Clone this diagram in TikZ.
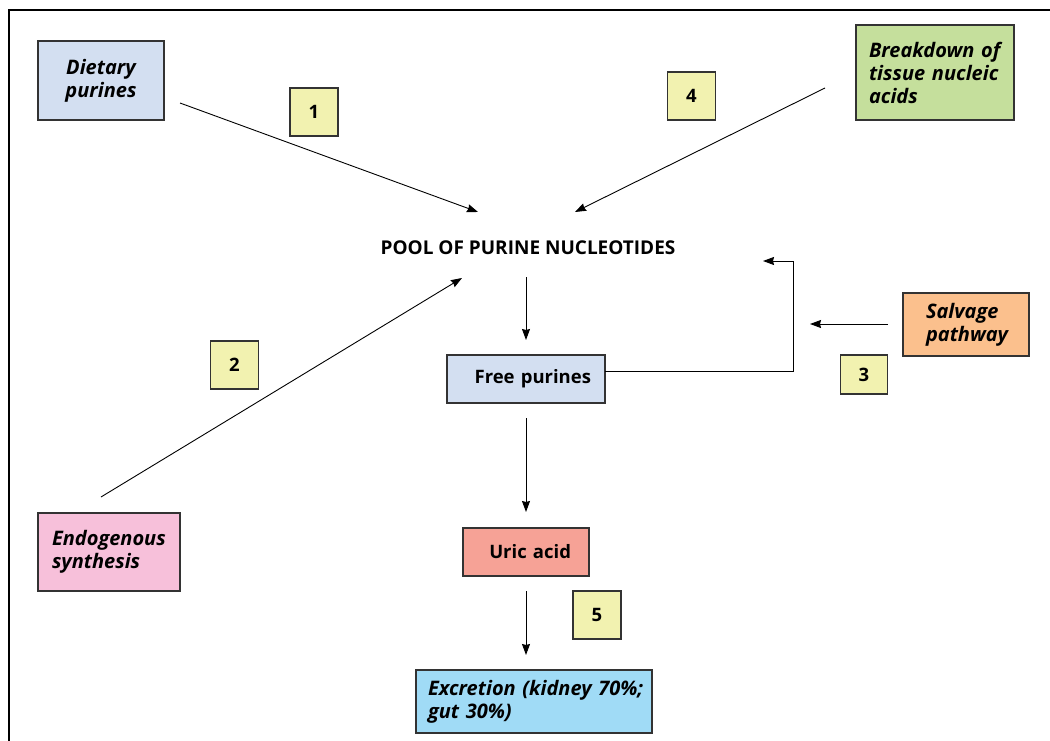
\documentclass[tikz,border=0pt]{standalone}
\usepackage{fontspec}
\setmainfont{Open Sans}
\usetikzlibrary{arrows.meta,calc}

\definecolor{dietblue}{HTML}{D3DFF1}
\definecolor{numyellow}{HTML}{F2F2B0}
\definecolor{tissuegreen}{HTML}{C5DF9C}
\definecolor{salvageorange}{HTML}{FBC08D}
\definecolor{endopink}{HTML}{F7C0DA}
\definecolor{uricred}{HTML}{F6A296}
\definecolor{excrblue}{HTML}{A0DBF6}

\tikzset{
  box/.style={draw=black!80, line width=1.1pt, inner sep=0pt,
    font=\fontsize{20}{23}\selectfont\bfseries\itshape, align=left},
  plainbox/.style={box, font=\fontsize{18.5}{22}\selectfont\bfseries},
  numbox/.style={draw=black!80, line width=1.1pt, fill=numyellow,
    minimum width=48, minimum height=48, inner sep=0pt,
    font=\fontsize{18.5}{22}\selectfont\bfseries},
  flow/.style={-{Stealth[length=11pt,width=8pt,inset=1pt]}, line width=0.9pt},
}

\hyphenpenalty=10000
\exhyphenpenalty=10000

\begin{document}
\begin{tikzpicture}[x=1pt, y=-1pt, line cap=butt, line join=miter]

  \useasboundingbox (0,0) rectangle (1050,741);

  % frame
  \draw[line width=1.5pt] (9,741) -- (9,10) -- (1050,10);

  % sources
  \node[box, fill=dietblue, align=center, minimum width=126, minimum height=79] (diet) at (101,80.5) {Dietary\\purines};
  \node[box, fill=tissuegreen, text width=132, minimum width=158, minimum height=95] (tissue) at (935,72.5) {Breakdown~of\\tissue~nucleic\\acids};
  \node[box, fill=endopink, text width=114, minimum width=142, minimum height=78] (endo) at (109,552) {Endogenous\\synthesis};
  \node[box, fill=salvageorange, text width=80, minimum width=126, minimum height=63] (salv) at (966,324.5) {Salvage\\pathway};

  % pool and products
  \node[font=\fontsize{19}{22}\selectfont\bfseries] (pool) at (528,248) {POOL OF PURINE NUCLEOTIDES};
  \node[plainbox, fill=dietblue, align=right, text width=130, minimum width=158, minimum height=48] (free) at (526,379) {Free~purines};
  \node[plainbox, fill=uricred, align=right, text width=90, minimum width=126, minimum height=48] (uric) at (526,552) {Uric~acid};
  \node[box, fill=excrblue, text width=212, minimum width=236, minimum height=63] (excr) at (534,701.5) {Excretion~(kidney~70\%;\\gut~30\%)};

  % step numbers
  \node[numbox] (n1) at (314,112) {1};
  \node[numbox] (n2) at (234.5,365) {2};
  \node[numbox, minimum width=47, minimum height=39] (n3) at (864,374.5) {3};
  \node[numbox] (n4) at (691.5,96) {4};
  \node[numbox] (n5) at (597,615) {5};

  % arrow ends
  \coordinate (dietout) at (180,103);
  \coordinate (dietin) at (478,212);
  \coordinate (tissueout) at (825,88);
  \coordinate (tissuein) at (575,212);
  \coordinate (endoout) at (101,497);
  \coordinate (endoin) at (462,278);
  \coordinate (poolout) at (526,277);
  \coordinate (freein) at (526,340);
  \coordinate (freeout) at (605,371.5);
  \coordinate (loopcorner) at (793,371.5);
  \coordinate (loopin) at (763,261);
  \coordinate (salvout) at (888,324);
  \coordinate (salvin) at (810,324);
  \coordinate (freedown) at (526,418);
  \coordinate (uricin) at (526,512);
  \coordinate (uricout) at (526,591);
  \coordinate (excrin) at (526,655);

  \draw[flow] (dietout) -- (dietin);
  \draw[flow] (tissueout) -- (tissuein);
  \draw[flow] (endoout) -- (endoin);
  \draw[flow] (poolout) -- (freein);
  \draw[flow] (freeout) -- (loopcorner) |- (loopin);
  \draw[flow] (salvout) -- (salvin);
  \draw[flow] (freedown) -- (uricin);
  \draw[flow] (uricout) -- (excrin);

\end{tikzpicture}
\end{document}
